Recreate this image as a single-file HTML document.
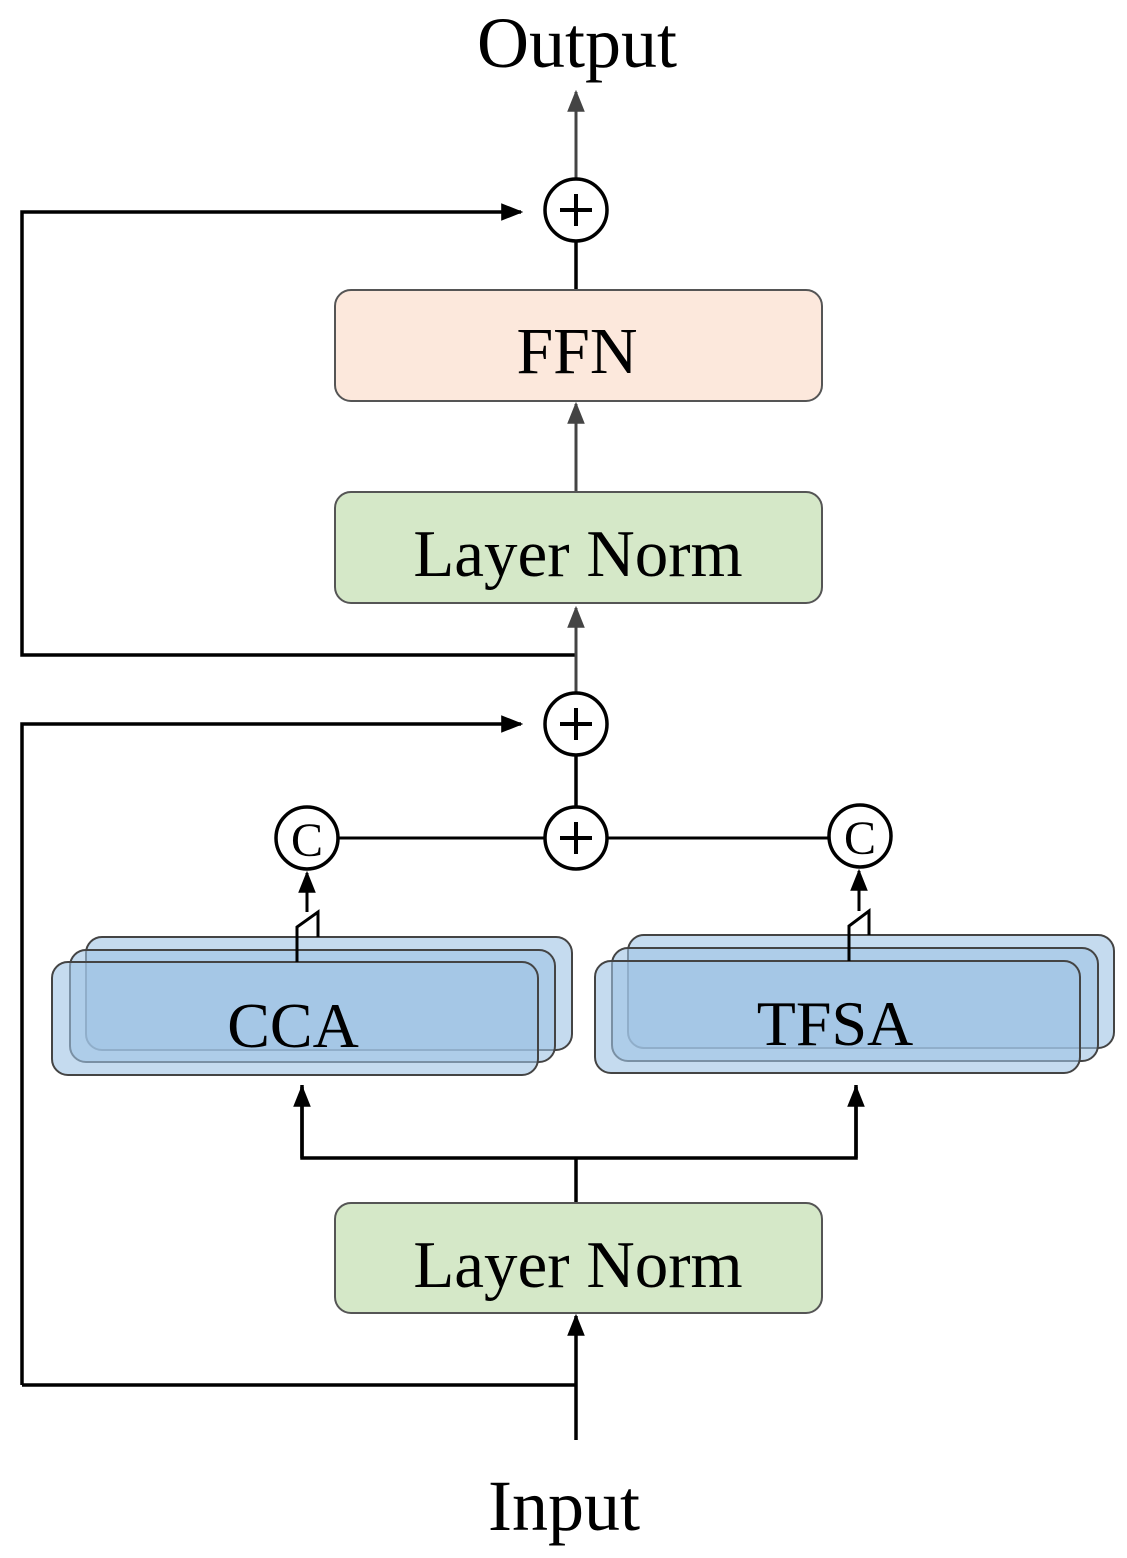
<!DOCTYPE html>
<html><head><style>body{margin:0;background:#fff}</style></head><body>
<svg width="1127" height="1553" viewBox="0 0 1127 1553" xmlns="http://www.w3.org/2000/svg" font-family="Liberation Serif, serif">
<defs>
<marker id="g" viewBox="0 0 10 10" refX="9" refY="5" markerWidth="22" markerHeight="22" orient="auto" markerUnits="userSpaceOnUse"><path d="M0,1 L10,5 L0,9 z" fill="#444"/></marker>
<marker id="b" viewBox="0 0 10 10" refX="9" refY="5" markerWidth="22" markerHeight="22" orient="auto" markerUnits="userSpaceOnUse"><path d="M0,1 L10,5 L0,9 z" fill="#000"/></marker>
</defs>
<g stroke="#000" stroke-width="3.5" fill="none">
<polyline points="576,655 22,655 22,212 521,212" marker-end="url(#b)"/>
<polyline points="22,1385 22,724 521,724" marker-end="url(#b)"/>
<line x1="22" y1="1385" x2="576" y2="1385"/>
<line x1="576" y1="1440" x2="576" y2="1316" marker-end="url(#b)"/>
<line x1="576" y1="1203" x2="576" y2="1158"/>
<polyline points="302,1085 302,1158 856,1158 856,1085"/>
<line x1="302" y1="1158" x2="302" y2="1087" marker-end="url(#b)"/>
<line x1="856" y1="1158" x2="856" y2="1087" marker-end="url(#b)"/>
<line x1="576" y1="806" x2="576" y2="756"/>
<line x1="339" y1="838" x2="544" y2="838" stroke-width="3"/>
<line x1="608" y1="838" x2="828" y2="838" stroke-width="3"/>
<line x1="576" y1="290" x2="576" y2="242"/>
</g>
<g stroke="#444" stroke-width="3" fill="none">
<line x1="576" y1="692" x2="576" y2="608" marker-end="url(#g)"/>
<line x1="576" y1="492" x2="576" y2="404" marker-end="url(#g)"/>
<line x1="576" y1="178" x2="576" y2="92" marker-end="url(#g)"/>
</g>
<rect x="335" y="290" width="487" height="111" rx="16" fill="#fce8dc" stroke="#555" stroke-width="2"/>
<rect x="335" y="492" width="487" height="111" rx="16" fill="#d5e8c8" stroke="#555" stroke-width="2"/>
<rect x="335" y="1203" width="487" height="110" rx="16" fill="#d5e8c8" stroke="#555" stroke-width="2"/>
<g fill="#9fc3e5" fill-opacity="0.6" stroke="#444" stroke-width="2">
<rect x="86" y="937" width="486" height="113" rx="16"/>
<rect x="70" y="950" width="485" height="112" rx="16"/>
<rect x="52" y="962" width="486" height="113" rx="16"/>
<rect x="628" y="935" width="486" height="113" rx="16"/>
<rect x="612" y="948" width="486" height="113" rx="16"/>
<rect x="595" y="961" width="485" height="112" rx="16"/>
</g>
<g stroke="#000" stroke-width="3" fill="none">
<polyline points="297,962 297,927 318,912 318,937"/>
<line x1="307" y1="912" x2="307" y2="873" marker-end="url(#b)"/>
<polyline points="849,961 849,926 869,911 869,935"/>
<line x1="859" y1="911" x2="859" y2="871" marker-end="url(#b)"/>
</g>
<g stroke="#000" stroke-width="3.5" fill="#fff">
<circle cx="576" cy="210" r="31"/><circle cx="576" cy="724" r="31"/><circle cx="576" cy="838" r="31"/>
<circle cx="307" cy="838" r="31"/><circle cx="860" cy="836" r="31"/>
</g>
<g stroke="#000" stroke-width="4">
<path d="M576,194 V226 M560,210 H592"/><path d="M576,708 V740 M560,724 H592"/><path d="M576,822 V854 M560,838 H592"/>
</g>
<g fill="#000" text-anchor="middle">
<text x="307" y="856" font-size="48">C</text>
<text x="860" y="854" font-size="48">C</text>
<text x="577" y="67" font-size="72">Output</text>
<text x="564" y="1530" font-size="72">Input</text>
<text x="577" y="373" font-size="66">FFN</text>
<text x="578" y="576" font-size="67">Layer Norm</text>
<text x="578" y="1287" font-size="67">Layer Norm</text>
<text x="293" y="1047" font-size="64">CCA</text>
<text x="835" y="1045" font-size="64">TFSA</text>
</g>
</svg>
</body></html>
